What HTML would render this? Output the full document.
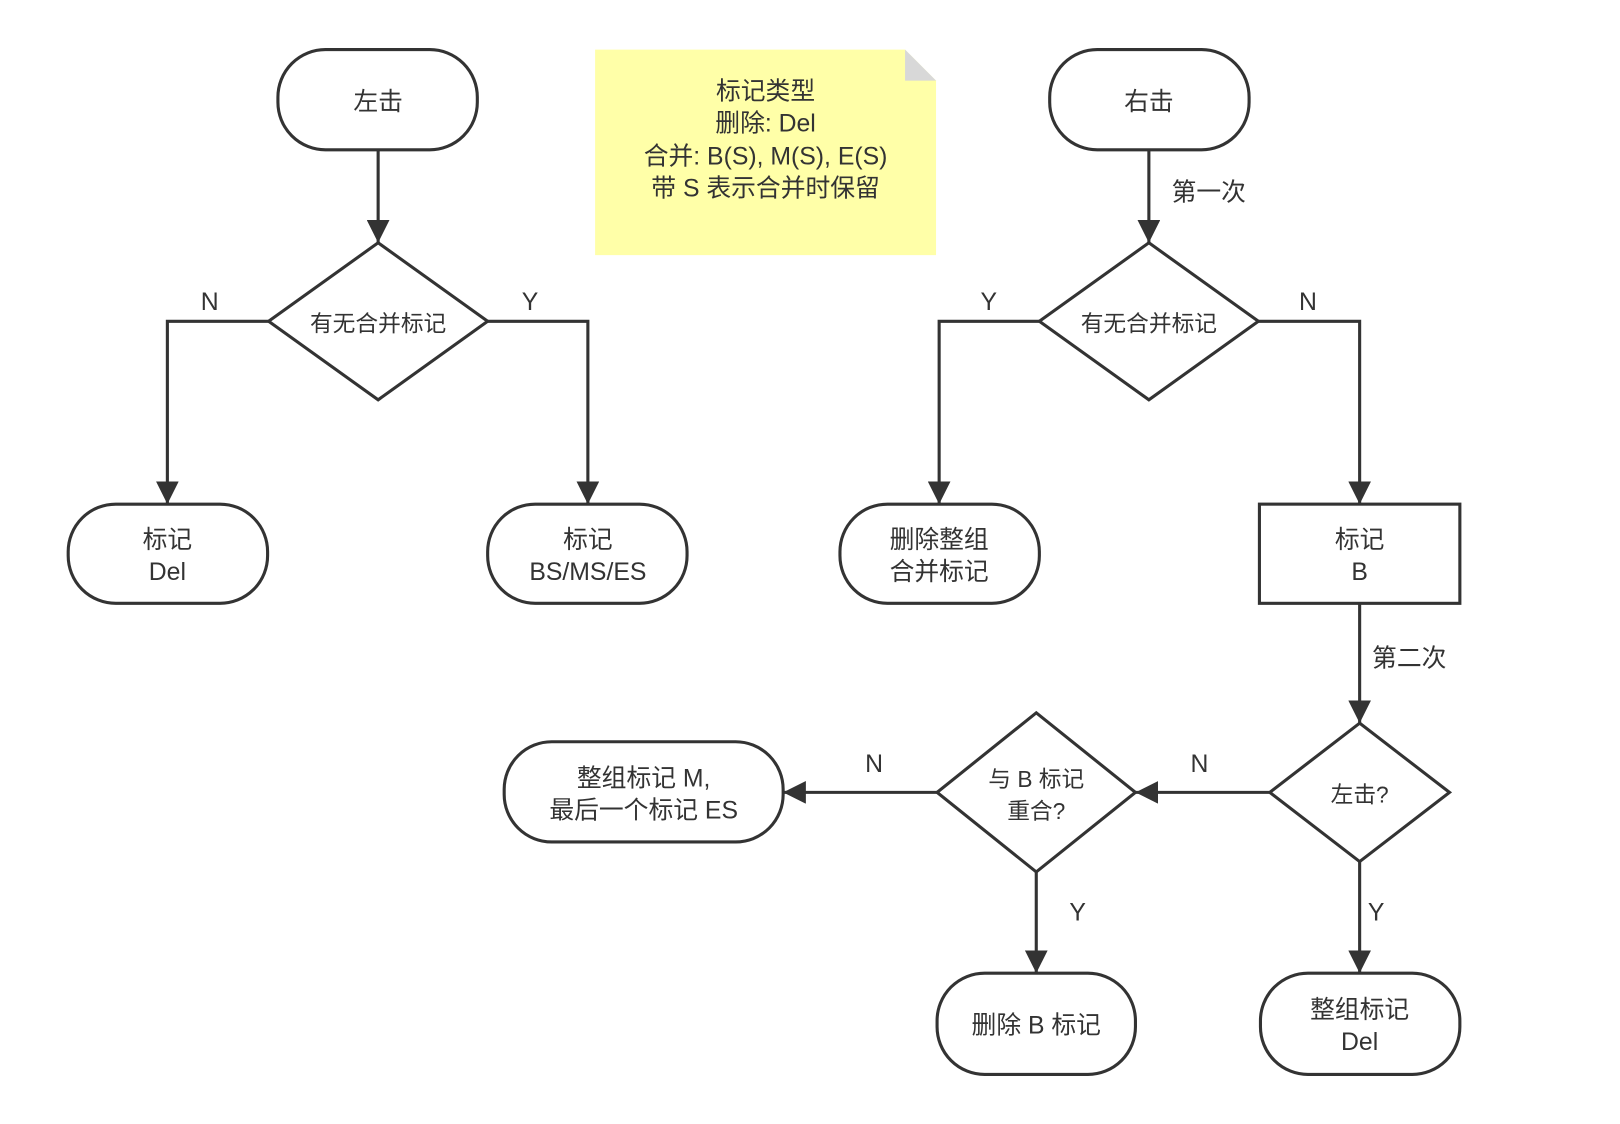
<!DOCTYPE html>
<html><head><meta charset="utf-8"><style>
html,body{margin:0;padding:0;background:#fff;width:1620px;height:1124px;overflow:hidden}
svg{display:block}
text{font-family:"Liberation Sans","Noto Sans CJK SC",sans-serif;fill:#333;text-anchor:middle;dominant-baseline:central}
</style></head><body>
<svg width="1620" height="1124" viewBox="0 0 1568 1088" preserveAspectRatio="none">
<defs>
<marker id="b" viewBox="0 0 22 22" markerWidth="22" markerHeight="22" refX="22" refY="11" orient="auto" markerUnits="userSpaceOnUse"><path d="M0,0L22,11L0,22z" fill="#333"/></marker></defs>
<g fill="none" stroke="#333" stroke-width="3">
<rect x="269" y="48" width="193" height="97" rx="46"/>
<polygon points="366,235 472,311 366,387 260,311" fill="#fff"/>
<rect x="66" y="488" width="193" height="96" rx="46"/>
<rect x="472" y="488" width="193" height="96" rx="46"/>
<rect x="1016" y="48" width="193" height="97" rx="46"/>
<polygon points="1112,235 1218,311 1112,387 1006,311"/>
<rect x="813" y="488" width="193" height="96" rx="46"/>
<rect x="1219" y="488" width="194" height="96"/>
<polygon points="1316,700 1403,767 1316,834 1229,767"/>
<polygon points="1003,690 1099,767 1003,844 907,767"/>
<rect x="488" y="718" width="270" height="97" rx="46"/>
<rect x="907" y="942" width="192" height="98" rx="46"/>
<rect x="1220" y="942" width="193" height="98" rx="46"/>
<path d="M366,145V235" marker-end="url(#b)"/>
<path d="M260,311H162V488" marker-end="url(#b)"/>
<path d="M472,311H569V488" marker-end="url(#b)"/>
<path d="M1112,145V235" marker-end="url(#b)"/>
<path d="M1006,311H909V488" marker-end="url(#b)"/>
<path d="M1218,311H1316V488" marker-end="url(#b)"/>
<path d="M1316,584V700" marker-end="url(#b)"/>
<path d="M1229,767H1099" marker-end="url(#b)"/>
<path d="M907,767H758" marker-end="url(#b)"/>
<path d="M1003,844V942" marker-end="url(#b)"/>
<path d="M1316,834V942" marker-end="url(#b)"/>
</g>
<path d="M576,48H876L906,78V247H576Z" fill="#ffffa8"/>
<path d="M876,48V78H906Z" fill="#d8d8d8"/>
<g font-size="24" transform="translate(0,2)">
<text x="366" y="97">左击</text>
<text x="366" y="311" font-size="22">有无合并标记</text>
<text x="162" y="521">标记</text><text x="162" y="552">Del</text>
<text x="569" y="521">标记</text><text x="569" y="552">BS/MS/ES</text>
<text x="203" y="291">N</text><text x="513" y="291">Y</text>
<text x="741" y="87">标记类型</text>
<text x="741" y="118">删除: Del</text>
<text x="741" y="150">合并: B(S), M(S), E(S)</text>
<text x="741" y="181">带 S 表示合并时保留</text>
<text x="1112" y="97">右击</text>
<text x="1170" y="185">第一次</text>
<text x="1112" y="311" font-size="22">有无合并标记</text>
<text x="957" y="291">Y</text><text x="1266" y="291">N</text>
<text x="909" y="521">删除整组</text><text x="909" y="552">合并标记</text>
<text x="1316" y="521">标记</text><text x="1316" y="552">B</text>
<text x="1364" y="636">第二次</text>
<text x="1316" y="767" font-size="22">左击?</text>
<text x="1003" y="752" font-size="22">与 B 标记</text><text x="1003" y="783" font-size="22">重合?</text>
<text x="623" y="752">整组标记 M,</text><text x="623" y="783">最后一个标记 ES</text>
<text x="846" y="738">N</text><text x="1161" y="738">N</text>
<text x="1043" y="882">Y</text><text x="1332" y="882">Y</text>
<text x="1003" y="991">删除 B 标记</text>
<text x="1316" y="976">整组标记</text><text x="1316" y="1007">Del</text>
</g>
</svg>
</body></html>
